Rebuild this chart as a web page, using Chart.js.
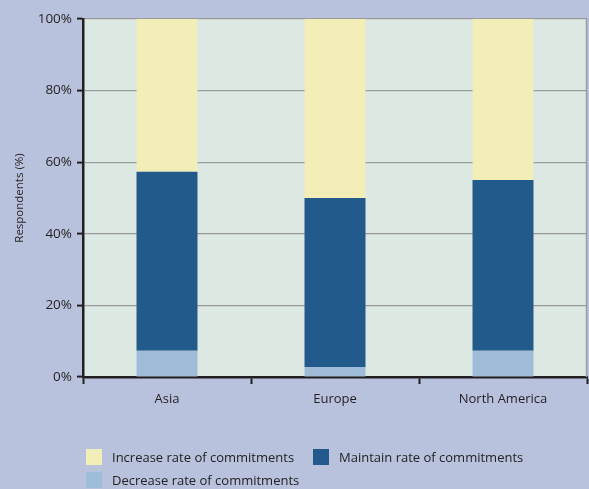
<!DOCTYPE html>
<html><head><meta charset="utf-8">
<script src="https://cdn.jsdelivr.net/npm/chart.js@4.4.1/dist/chart.umd.min.js"></script>
<style>
html,body{margin:0;padding:0;background:#b8c2dc;}
#wrap{position:relative;width:589px;height:489px;}
canvas{position:absolute;left:0;top:0;}
.leg{position:absolute;font-family:"Open Sans",sans-serif;font-size:13px;color:#222;white-space:nowrap;line-height:18px;}
.sw{position:absolute;width:16px;height:16px;}
</style></head>
<body>
<div id="wrap">
<canvas id="c" width="589" height="489"></canvas>
<div id="legend"></div>
</div>
<script>
const categories = ["Asia", "Europe", "North America"];
const decrease = [7.3, 2.8, 7.3];
const maintain = [50.0, 47.2, 47.7];
const increase = [42.7, 50.0, 45.0];
const yTicks = [0, 20, 40, 60, 80, 100];
const seriesNames = ["Decrease rate of commitments", "Maintain rate of commitments", "Increase rate of commitments"];
const colors = ["#9fbcd9", "#235a8c", "#f3edb8"];

const bgPlugin = {
  id: 'plotbg',
  beforeDraw(chart) {
    const {ctx, chartArea: a} = chart;
    ctx.save();
    ctx.fillStyle = '#dce9e2';
    ctx.fillRect(a.left, a.top, a.right - a.left, a.bottom - a.top);
    ctx.restore();
  },
  afterDatasetsDraw(chart) {
    const {ctx, chartArea: a} = chart;
    ctx.save();
    ctx.strokeStyle = '#9a9a9a';
    ctx.lineWidth = 1.5;
    ctx.beginPath();
    ctx.moveTo(a.right - 0.5, a.top);
    ctx.lineTo(a.right - 0.5, a.bottom);
    ctx.stroke();
    ctx.restore();
  }
};

new Chart(document.getElementById('c'), {
  type: 'bar',
  data: {
    labels: categories,
    datasets: [
      {label: seriesNames[0], data: decrease, backgroundColor: colors[0]},
      {label: seriesNames[1], data: maintain, backgroundColor: colors[1]},
      {label: seriesNames[2], data: increase, backgroundColor: colors[2]}
    ]
  },
  options: {
    responsive: false,
    animation: false,
    layout: {padding: {top: 19, right: 2, left: 0, bottom: 0}},
    datasets: {bar: {barPercentage: 0.363, categoryPercentage: 1.0}},
    plugins: {legend: {display: false}, tooltip: {enabled: false}},
    scales: {
      x: {
        stacked: true,
        afterFit: s => { s.height = 112; },
        grid: {display: true, offset: true, drawOnChartArea: false, drawTicks: true, tickLength: 7, tickColor: '#231f20', tickWidth: 2, color: 'transparent'},
        border: {display: true, color: '#231f20', width: 2.5},
        ticks: {color: '#231f20', font: {family: '"Open Sans", sans-serif', size: 13}, padding: 7}
      },
      y: {
        stacked: true,
        min: 0, max: 100,
        afterFit: s => { s.width = 83; },
        afterBuildTicks: s => { s.ticks = yTicks.map(v => ({value: v})); },
        grid: {color: '#9a9a9a', lineWidth: 1.2, drawTicks: true, tickLength: 6, tickColor: '#231f20', tickWidth: 2},
        border: {display: true, color: '#231f20', width: 2.5},
        ticks: {color: '#231f20', font: {family: '"Open Sans", sans-serif', size: 13.5}, padding: 5, callback: v => v + '%'},
        title: {display: true, text: 'Respondents (%)', color: '#231f20', font: {family: '"Open Sans", sans-serif', size: 11.5}, padding: {top: 13, bottom: 8}}
      }
    }
  },
  plugins: [bgPlugin]
});

// HTML legend
const legendItems = [
  {name: seriesNames[2], color: colors[2], x: 86, y: 449},
  {name: seriesNames[1], color: colors[1], x: 313, y: 449},
  {name: seriesNames[0], color: colors[0], x: 86, y: 472}
];
const lg = document.getElementById('legend');
legendItems.forEach(it => {
  const s = document.createElement('div');
  s.className = 'sw'; s.style.left = it.x + 'px'; s.style.top = it.y + 'px'; s.style.background = it.color;
  const t = document.createElement('div');
  t.className = 'leg'; t.style.left = (it.x + 26) + 'px'; t.style.top = (it.y - 1) + 'px'; t.textContent = it.name;
  lg.appendChild(s); lg.appendChild(t);
});
</script>
</body></html>
